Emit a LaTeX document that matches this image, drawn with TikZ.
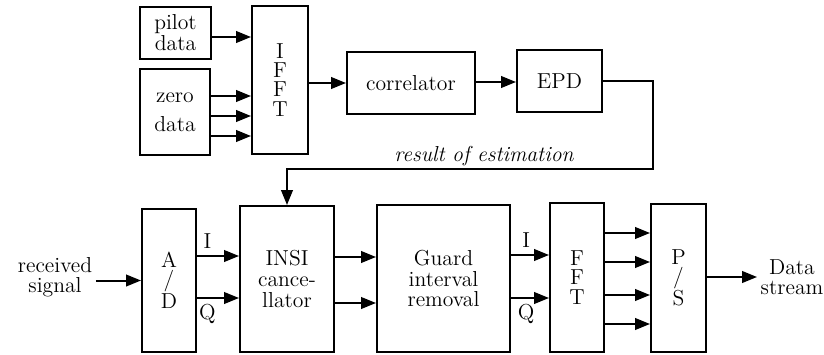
\documentclass[tikz,border=0pt]{standalone}
\usetikzlibrary{arrows.meta}
\begin{document}
\begin{tikzpicture}[x=0.6pt,y=-0.6pt,
    blk/.style={draw,line width=1.2pt,inner sep=0pt,align=center,
      font=\fontsize{13}{12.5}\selectfont},
    stk/.style={blk,font=\fontsize{13}{11.5}\selectfont},
    lbl/.style={align=center,inner sep=2pt,font=\fontsize{13}{12}\selectfont},
    arr/.style={line width=1.2pt,-{Triangle[length=9pt,width=7pt]}}]
  \useasboundingbox (0,0) rectangle (824,354);
  \node[blk,minimum width=42.6pt,minimum height=31.2pt] (pilot) at (175.5,33) {pilot\\data};
  \node[blk,minimum width=42pt,minimum height=51.6pt] (zero) at (175,112) {zero\\[5pt]data};
  \node[stk,minimum width=33.6pt,minimum height=88.8pt] (ifft) at (280,80) {I\\F\\F\\T};
  \node[blk,minimum width=76.8pt,minimum height=37.2pt] (corr) at (411,83) {correlator};
  \node[blk,minimum width=51pt,minimum height=37.2pt] (epd) at (559.5,81) {EPD};
  \node[lbl] (res) at (484,156) {\itshape result of estimation};
  \coordinate (fb) at (653,169);
  \node[lbl] (recv) at (55,277) {received\\signal};
  \node[stk,minimum width=32.4pt,minimum height=85.8pt] (ad) at (169,280.5) {A\\/\\D};
  \node[blk,minimum width=56.4pt,minimum height=87.6pt] (insi) at (287,279) {INSI\\cance-\\llator};
  \node[blk,minimum width=79.8pt,minimum height=88.2pt] (guard) at (443.5,278.5) {Guard\\interval\\removal};
  \node[stk,minimum width=32.4pt,minimum height=89.4pt] (fft) at (577,277.5) {F\\F\\T};
  \node[stk,minimum width=33pt,minimum height=88.8pt] (ps) at (678.5,278) {P\\/\\S};
  \node[lbl] (out) at (792,277) {Data\\stream};
  \draw[arr] (pilot.east |- 0,37) -- (ifft.west |- 0,37);
  \foreach \y in {96,116,136}
    \draw[arr] (zero.east |- 0,\y) -- (ifft.west |- 0,\y);
  \draw[arr] (ifft.east |- corr) -- (corr.west);
  \draw[arr] (corr.east |- 0,82) -- (epd.west |- 0,82);
  \draw[arr] (epd.east) -| (fb) -| (insi.north);
  \draw[arr] (recv.east |- ad) -- (ad.west);
  \draw[arr] (ad.east |- 0,256) -- node[lbl,above,pos=0.25,yshift=2pt] {I} (insi.west |- 0,256);
  \draw[arr] (ad.east |- 0,298) -- node[lbl,below,pos=0.25,yshift=-1pt] {Q} (insi.west |- 0,298);
  \foreach \y in {257,303}
    \draw[arr] (insi.east |- 0,\y) -- (guard.west |- 0,\y);
  \draw[arr] (guard.east |- 0,255) -- node[lbl,above,pos=0.4,yshift=2pt] {I} (fft.west |- 0,255);
  \draw[arr] (guard.east |- 0,298) -- node[lbl,below,pos=0.4,yshift=-1pt] {Q} (fft.west |- 0,298);
  \foreach \y in {233,262,295,324}
    \draw[arr] (fft.east |- 0,\y) -- (ps.west |- 0,\y);
  \draw[arr] (ps.east |- out) -- (out.west);
\end{tikzpicture}
\end{document}
